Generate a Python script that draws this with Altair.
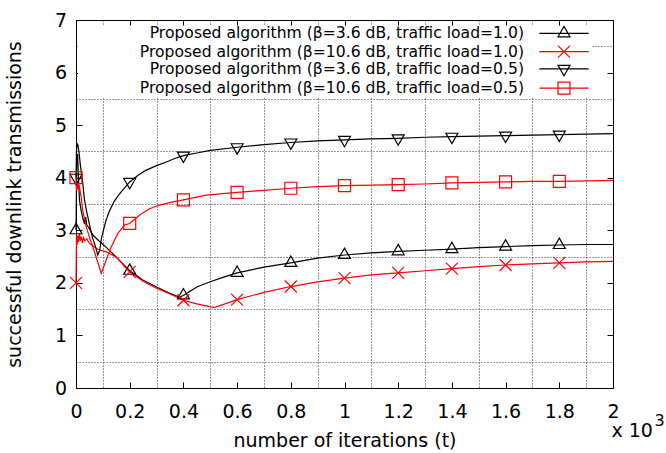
import altair as alt
import pandas as pd

SERIES = [
    "Proposed algorithm (β=3.6 dB, traffic load=1.0)",
    "Proposed algorithm (β=10.6 dB, traffic load=1.0)",
    "Proposed algorithm (β=3.6 dB, traffic load=0.5)",
    "Proposed algorithm (β=10.6 dB, traffic load=0.5)",
]
COLORS = ["#000000", "#ff0000", "#000000", "#ff0000"]

# iterations (t) and successful downlink transmissions, per series
T1 = [0, 3, 6, 9, 13, 20, 27, 32, 36, 40, 48, 63, 85, 112, 150, 200, 250, 300, 350, 385,
      400, 450, 500, 550, 600, 700, 800, 900, 1000, 1100, 1200, 1300, 1400, 1500, 1600,
      1700, 1800, 1900, 2000]
Y1 = [3.0, 4.4, 4.45, 4.0, 3.57, 3.35, 3.2, 3.12, 3.25, 3.1, 3.05, 2.91, 2.8, 2.68, 2.49,
      2.23, 2.05, 1.92, 1.8, 1.73, 1.76, 1.92, 2.02, 2.11, 2.19, 2.3, 2.38, 2.47, 2.53,
      2.57, 2.6, 2.62, 2.64, 2.67, 2.69, 2.71, 2.72, 2.73, 2.73]

T2 = [0, 2, 4, 7, 10, 13, 16, 20, 24, 28, 33, 40, 50, 63, 85, 112, 150, 200, 250, 300,
      350, 400, 450, 515, 600, 700, 800, 900, 1000, 1100, 1200, 1300, 1400, 1500, 1600,
      1700, 1800, 1900, 2000]
Y2 = [2.0, 2.92, 2.72, 2.9, 2.78, 2.94, 2.8, 2.88, 2.76, 2.86, 2.8, 2.84, 2.75, 2.7, 2.63,
      2.59, 2.49, 2.21, 2.03, 1.9, 1.79, 1.67, 1.6, 1.53, 1.68, 1.82, 1.93, 2.02, 2.09,
      2.15, 2.19, 2.23, 2.27, 2.31, 2.34, 2.36, 2.38, 2.4, 2.41]

T3 = [0, 2, 5, 8, 12, 16, 20, 24, 32, 40, 47, 55, 62, 69, 75, 81, 88, 95, 102, 112, 125,
      140, 160, 180, 200, 230, 260, 300, 336, 370, 400, 450, 500, 600, 700, 800, 900,
      1000, 1100, 1200, 1300, 1400, 1500, 1600, 1700, 1800, 1900, 2000]
Y3 = [4.0, 4.55, 4.65, 4.6, 4.45, 4.25, 4.1, 3.95, 3.57, 3.35, 3.19, 3.0, 2.85, 2.75, 2.64,
      2.53, 2.62, 2.85, 3.0, 3.19, 3.37, 3.53, 3.68, 3.8, 3.92, 4.04, 4.14, 4.23, 4.3,
      4.37, 4.42, 4.47, 4.52, 4.58, 4.63, 4.67, 4.7, 4.72, 4.74, 4.75, 4.77, 4.78, 4.79,
      4.8, 4.81, 4.82, 4.83, 4.84]

T4 = [0, 2, 4, 6, 8, 10, 13, 16, 19, 25, 38, 50, 63, 75, 85, 94, 103, 112, 131, 156, 181,
      200, 237, 274, 311, 361, 400, 485, 600, 700, 800, 900, 1000, 1100, 1200, 1300,
      1400, 1500, 1600, 1700, 1800, 1900, 2000]
Y4 = [4.0, 3.75, 3.92, 3.78, 3.88, 3.8, 3.83, 3.72, 3.64, 3.38, 3.07, 2.87, 2.68, 2.49,
      2.33, 2.18, 2.3, 2.43, 2.68, 2.94, 3.1, 3.13, 3.29, 3.41, 3.48, 3.54, 3.58, 3.67,
      3.72, 3.76, 3.8, 3.83, 3.85, 3.86, 3.87, 3.88, 3.9, 3.91, 3.92, 3.93, 3.93, 3.94,
      3.95]

X_MAJOR = [0, 200, 400, 600, 800, 1000, 1200, 1400, 1600, 1800, 2000]
X_GRID = [100, 300, 500, 700, 900, 1100, 1300, 1500, 1700, 1900]
Y_MAJOR = [0, 1, 2, 3, 4, 5, 6, 7]
Y_GRID = [0.5, 1.5, 2.5, 3.5, 4.5, 5.5, 6.5]

# marker glyphs (gnuplot-like open symbols) and key glyphs (line + symbol)
TRI_UP = "M0,-1.15L1,0.58L-1,0.58Z"
CROSS = "M-1,-1L1,1M-1,1L1,-1"
TRI_DOWN = "M0,1.15L1,-0.58L-1,-0.58Z"
SQUARE = "M-1,-1H1V1H-1Z"
MARKERS = [TRI_UP, CROSS, TRI_DOWN, SQUARE]
KEY_LINE = "M-4.1,0H4.1"
KEY_SYMBOLS = [KEY_LINE + m for m in MARKERS]

rows = []
for name, ts, ys in zip(SERIES, [T1, T2, T3, T4], [Y1, Y2, Y3, Y4]):
    for t, v in zip(ts, ys):
        rows.append({"series": name, "t": t, "value": v})
df = pd.DataFrame(rows)

FONT = "DejaVu Sans"
x_scale = alt.Scale(domain=[0, 2000], nice=False, zero=False)
y_scale = alt.Scale(domain=[0, 7], nice=False, zero=False)
color_scale = alt.Scale(domain=SERIES, range=COLORS)
marker_scale = alt.Scale(domain=SERIES, range=MARKERS)
key_scale = alt.Scale(domain=SERIES, range=KEY_SYMBOLS)

tick_in = {"expr": "-6"}
grid_style = dict(grid=True, gridDash=[1, 2], gridColor="#333333", gridWidth=1,
                  ticks=False, labels=False, domain=False, zindex=0)

base = alt.Chart(df)

lines = base.mark_line(strokeWidth=1.2).encode(
    x=alt.X("t:Q", scale=x_scale,
            axis=alt.Axis(orient="bottom", values=X_GRID, title="3", titleX=578,
                          titleY=37, titleAlign="left", titleBaseline="alphabetic",
                          titleFontSize=16, **grid_style)),
    y=alt.Y("value:Q", scale=y_scale,
            axis=alt.Axis(orient="left", values=Y_GRID, title=None, **grid_style)),
    color=alt.Color("series:N", scale=color_scale, legend=None),
)

markers = base.mark_point(filled=False, size=144, strokeWidth=1.2, opacity=1).encode(
    x=alt.X("t:Q", scale=x_scale,
            axis=alt.Axis(orient="bottom", values=X_MAJOR,
                          labelExpr="format(datum.value / 1000, '~g')",
                          tickSize=tick_in, labelPadding=20, labelFlush=False,
                          grid=False, domain=False,
                          title="number of iterations (t)", titleY=52,
                          titleBaseline="middle")),
    y=alt.Y("value:Q", scale=y_scale,
            axis=alt.Axis(orient="left", values=Y_MAJOR, tickSize=tick_in,
                          labelPadding=15.5, labelFlush=False, grid=False, domain=False,
                          title="successful downlink transmissions", titleX=-62,
                          titleBaseline="middle")),
    color=alt.Color("series:N", scale=color_scale, legend=None),
    shape=alt.Shape("series:N", scale=marker_scale, legend=None),
).transform_filter("datum.t % 200 == 0 && datum.t < 2000")

key_legend = alt.Legend(
    orient="none", legendX=2, legendY=5.5, direction="vertical", title=None,
    fillColor="white", padding=0, rowPadding=0.3, symbolOffset=478.2,
    labelOffset={"expr": "-47.8"}, labelAlign="right", labelFont=FONT,
    labelFontSize=15.6, labelLimit=0, labelColor="black", symbolSize=144,
    symbolStrokeWidth=1.2, symbolFillColor="transparent",
)

key = base.mark_point(filled=False, size=144, strokeWidth=1.2, opacity=1).encode(
    x=alt.X("t:Q", scale=x_scale,
            axis=alt.Axis(orient="top", values=X_MAJOR, tickSize=tick_in, labels=False,
                          grid=False, domain=False, title="x 10", titleX=535, titleY=416,
                          titleAlign="left", titleBaseline="alphabetic", titleAngle=0)),
    y=alt.Y("value:Q", scale=y_scale,
            axis=alt.Axis(orient="right", values=Y_MAJOR, tickSize=tick_in,
                          labels=False, grid=False, domain=False, title=None)),
    color=alt.Color("series:N", scale=color_scale, legend=key_legend),
    shape=alt.Shape("series:N", scale=key_scale, legend=key_legend),
).transform_filter("false")

chart = (
    alt.layer(lines, markers, key)
    .resolve_scale(color="independent", shape="independent")
    .resolve_axis(x="independent", y="independent")
    .properties(
        width=537, height=368,
        autosize=alt.AutoSizeParams(type="none"),
        padding={"left": 76, "top": 20, "right": 53, "bottom": 65},
        background="white",
    )
    .configure_view(stroke="black", strokeWidth=1)
    .configure_axis(labelFont=FONT, labelFontSize=19, titleFont=FONT, titleFontSize=19,
                    titleFontWeight="normal", labelColor="black", titleColor="black",
                    tickColor="black", tickWidth=1)
)

chart.save("out.html", embed_options={"renderer": "svg", "actions": False})
